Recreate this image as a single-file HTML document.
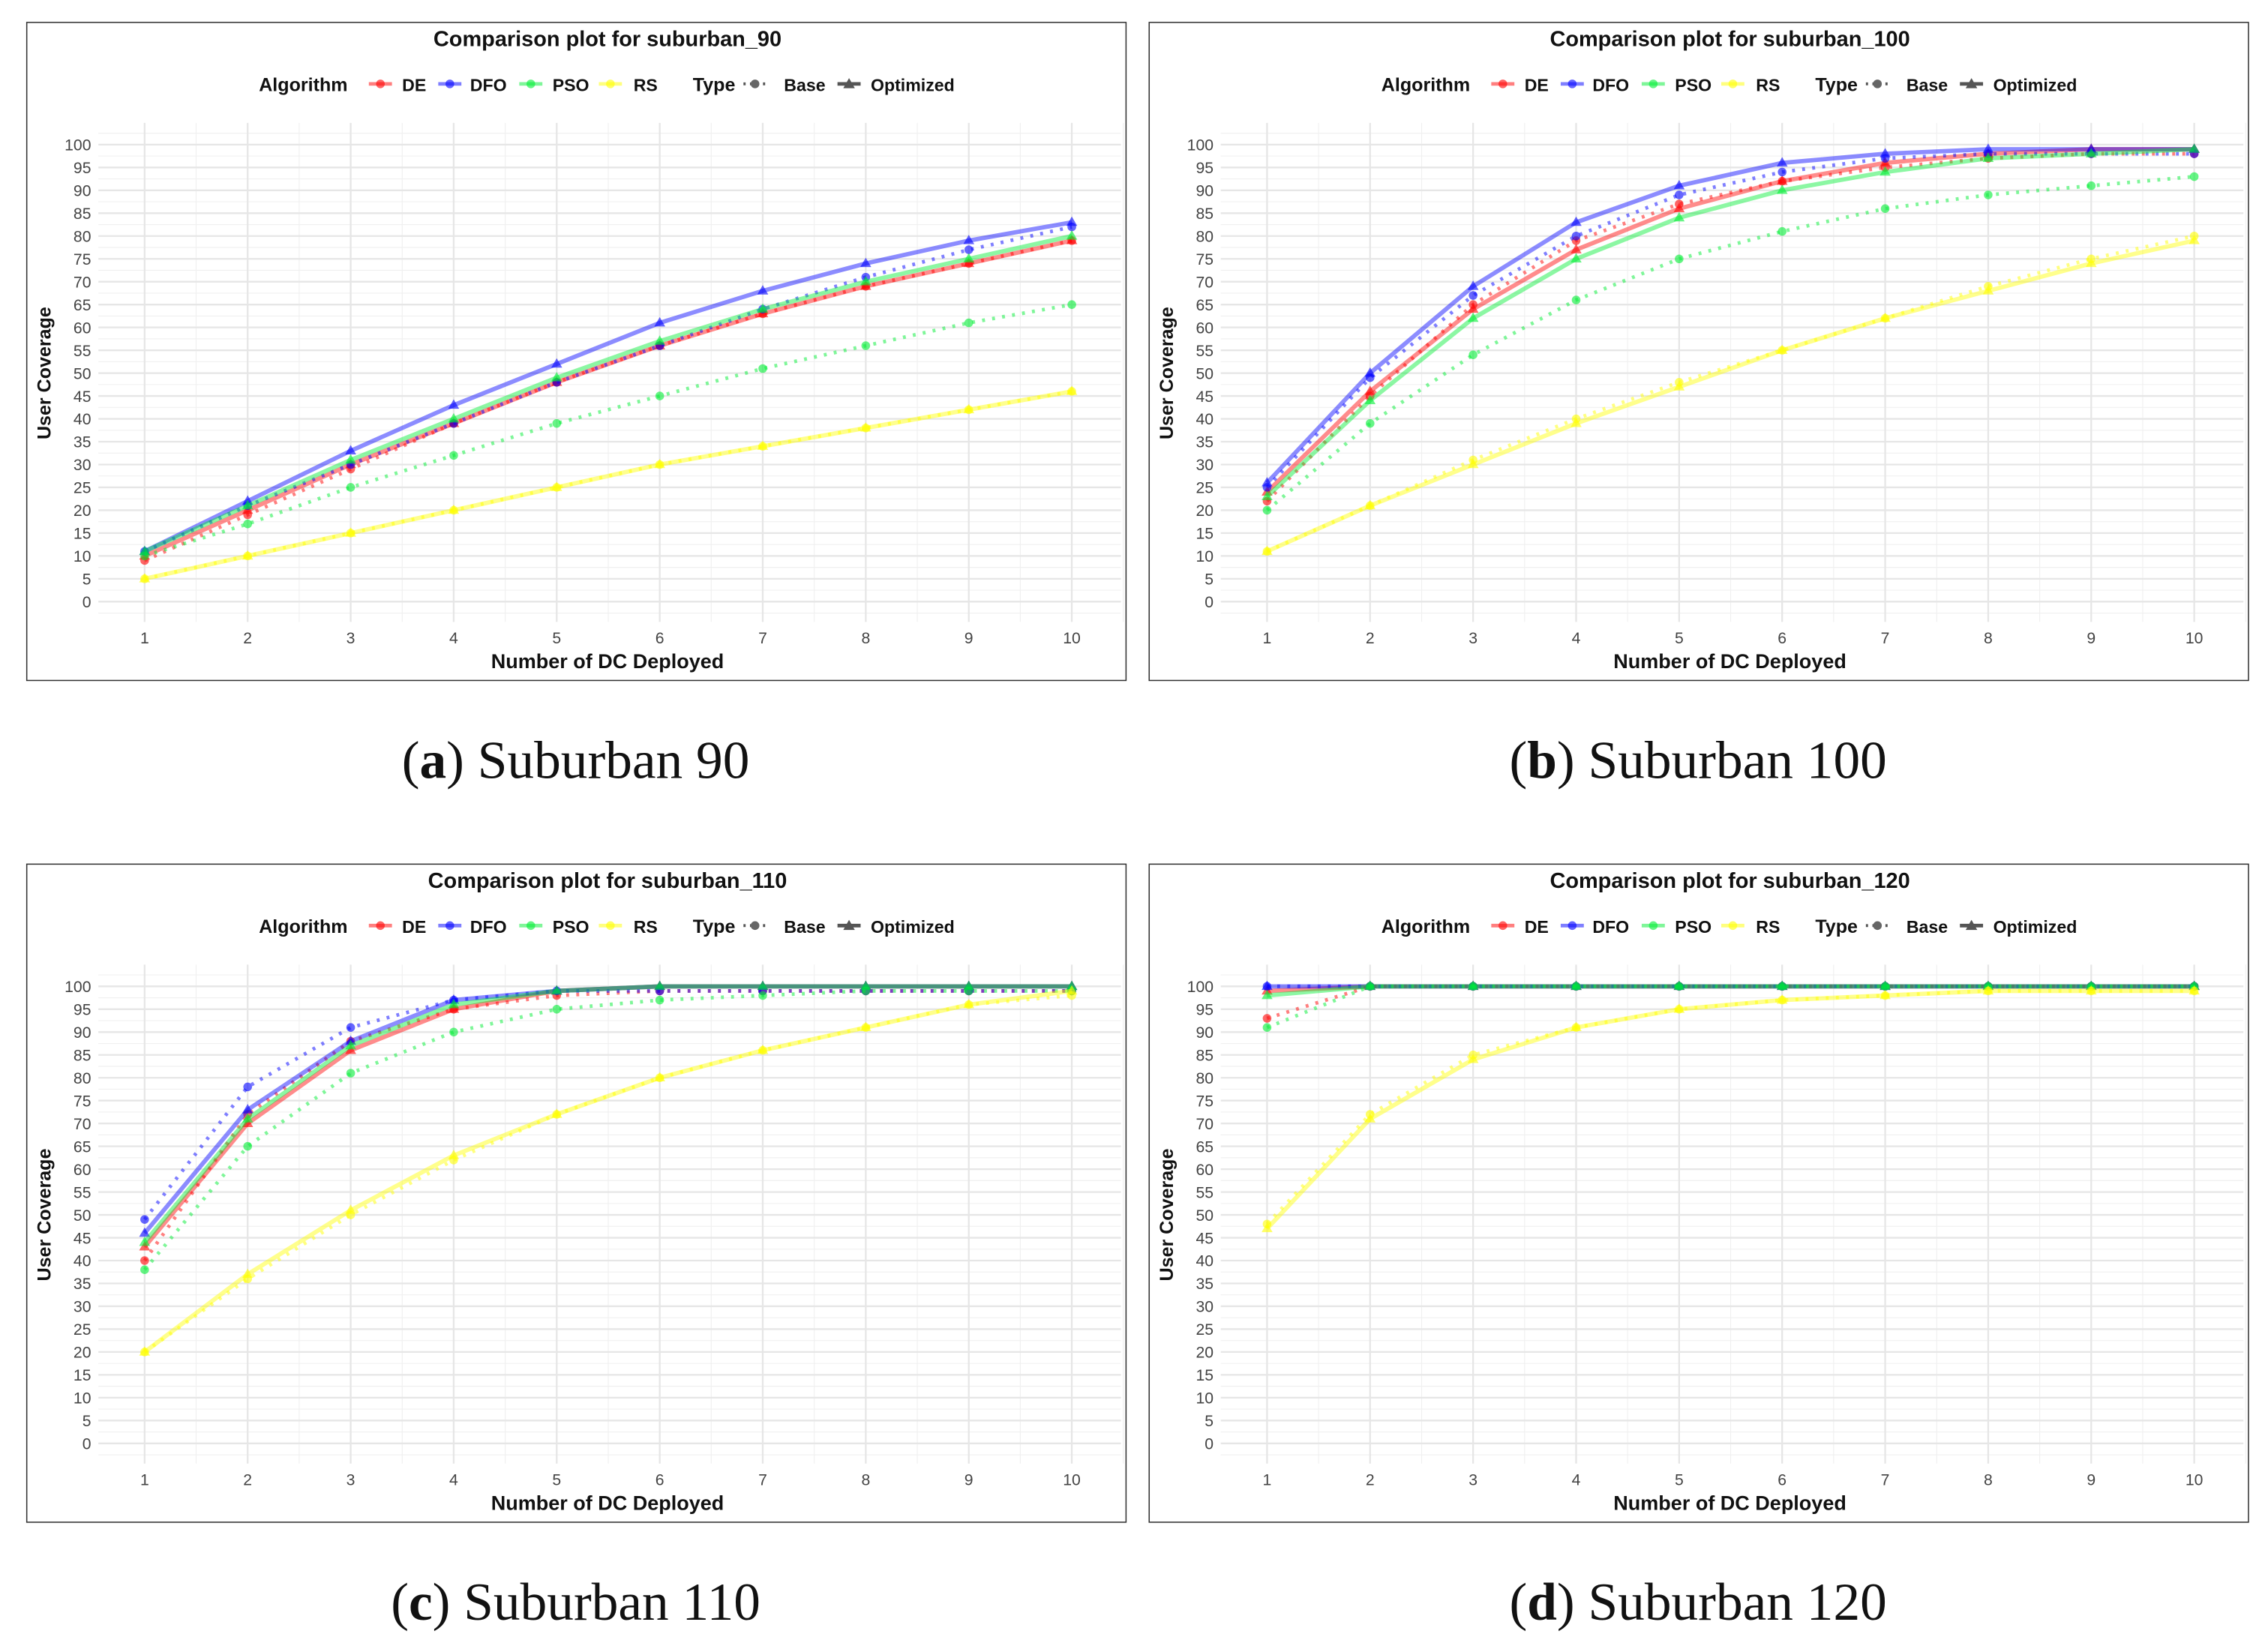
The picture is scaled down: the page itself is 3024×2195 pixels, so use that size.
<!DOCTYPE html>
<html><head><meta charset="utf-8">
<style>
html,body{margin:0;padding:0;background:#fff;}
svg{display:block;}
text{font-family:"Liberation Sans",sans-serif;}
</style></head>
<body>
<svg id="fig" width="3024" height="2195" viewBox="0 0 1568 1138.1" preserveAspectRatio="none" xmlns="http://www.w3.org/2000/svg"></svg>
<script>
const xCats = [1,2,3,4,5,6,7,8,9,10];
const yTicks = [0,5,10,15,20,25,30,35,40,45,50,55,60,65,70,75,80,85,90,95,100];
const algos = ["DE","DFO","PSO","RS"];
const panelTitles = ["Comparison plot for suburban_90","Comparison plot for suburban_100","Comparison plot for suburban_110","Comparison plot for suburban_120"];
const captionsBold = ["a","b","c","d"];
const captionsText = [" Suburban 90"," Suburban 100"," Suburban 110"," Suburban 120"];
// suburban_90
const a_DE_opt = [10,20,30,39,48,56,63,69,74,79];
const a_DE_base = [9,19,29,39,48,56,63,69,74,79];
const a_DFO_opt = [11,22,33,43,52,61,68,74,79,83];
const a_DFO_base = [11,21,30,39,48,56,64,71,77,82];
const a_PSO_opt = [11,21,31,40,49,57,64,70,75,80];
const a_PSO_base = [10,17,25,32,39,45,51,56,61,65];
const a_RS_opt = [5,10,15,20,25,30,34,38,42,46];
const a_RS_base = [5,10,15,20,25,30,34,38,42,46];
// suburban_100
const b_DE_opt = [24,46,64,77,86,92,96,98,99,99];
const b_DE_base = [22,45,65,79,87,92,95,97,98,98];
const b_DFO_opt = [26,50,69,83,91,96,98,99,99,99];
const b_DFO_base = [25,49,67,80,89,94,97,98,98,98];
const b_PSO_opt = [23,44,62,75,84,90,94,97,98,99];
const b_PSO_base = [20,39,54,66,75,81,86,89,91,93];
const b_RS_opt = [11,21,30,39,47,55,62,68,74,79];
const b_RS_base = [11,21,31,40,48,55,62,69,75,80];
// suburban_110
const c_DE_opt = [43,70,86,95,99,100,100,100,100,100];
const c_DE_base = [40,72,88,95,98,99,99,99,99,99];
const c_DFO_opt = [46,73,88,97,99,100,100,100,100,100];
const c_DFO_base = [49,78,91,97,99,99,99,99,99,99];
const c_PSO_opt = [44,71,87,96,99,100,100,100,100,100];
const c_PSO_base = [38,65,81,90,95,97,98,99,99,99];
const c_RS_opt = [20,37,51,63,72,80,86,91,96,99];
const c_RS_base = [20,36,50,62,72,80,86,91,96,98];
// suburban_120
const d_DE_opt = [99,100,100,100,100,100,100,100,100,100];
const d_DE_base = [93,100,100,100,100,100,100,100,100,100];
const d_DFO_opt = [100,100,100,100,100,100,100,100,100,100];
const d_DFO_base = [100,100,100,100,100,100,100,100,100,100];
const d_PSO_opt = [98,100,100,100,100,100,100,100,100,100];
const d_PSO_base = [91,100,100,100,100,100,100,100,100,100];
const d_RS_opt = [47,71,84,91,95,97,98,99,99,99];
const d_RS_base = [48,72,85,91,95,97,98,99,99,99];

const panelsData = [
 {DE:[a_DE_base,a_DE_opt],DFO:[a_DFO_base,a_DFO_opt],PSO:[a_PSO_base,a_PSO_opt],RS:[a_RS_base,a_RS_opt]},
 {DE:[b_DE_base,b_DE_opt],DFO:[b_DFO_base,b_DFO_opt],PSO:[b_PSO_base,b_PSO_opt],RS:[b_RS_base,b_RS_opt]},
 {DE:[c_DE_base,c_DE_opt],DFO:[c_DFO_base,c_DFO_opt],PSO:[c_PSO_base,c_PSO_opt],RS:[c_RS_base,c_RS_opt]},
 {DE:[d_DE_base,d_DE_opt],DFO:[d_DFO_base,d_DFO_opt],PSO:[d_PSO_base,d_PSO_opt],RS:[d_RS_base,d_RS_opt]}
];
const colors = {DE:"#ff0000",DFO:"#0000ff",PSO:"#00ee33",RS:"#ffff00"};
const NS="http://www.w3.org/2000/svg";
const svg=document.getElementById('fig');
function mk(tag,attrs,parent,txt){const e=document.createElementNS(NS,tag);for(const k in attrs)e.setAttribute(k,attrs[k]);if(txt!==undefined)e.textContent=txt;(parent||svg).appendChild(e);return e;}
const offsets=[[0,0],[776,0],[0,582],[776,582]];
const names=["a","b","c","d"];
offsets.forEach((o,pi)=>{
  const ox=o[0], oy=o[1];
  const g=mk('g',{transform:`translate(${ox},${oy})`});
  
  
  const box=mk('rect',{x:18.5,y:15.5,width:760,height:455,fill:'#fff',stroke:'#333','stroke-width':0.8},g);
  
  
  const xs=v=>100+(v-1)*(741-100)/9;
  const ys=v=>416-v*3.16;
  const left=68,right=775,top=85,bottom=430;
  const grid=mk('g',{},g);
  
  
  for(let v=-2.5; v<=102.5; v+=5){ mk('line',{x1:left,x2:right,y1:ys(v),y2:ys(v),stroke:'#f0f0f0','stroke-width':0.6},grid);}
  for(let i=0;i<xCats.length-1;i++){const xm=(xs(xCats[i])+xs(xCats[i+1]))/2; mk('line',{x1:xm,x2:xm,y1:top,y2:bottom,stroke:'#f0f0f0','stroke-width':0.6},grid);}
  {const xm=xs(10.5); mk('line',{x1:xm,x2:xm,y1:top,y2:bottom,stroke:'#f0f0f0','stroke-width':0.6},grid);}
  yTicks.forEach(v=>{mk('line',{x1:left,x2:right,y1:ys(v),y2:ys(v),stroke:'#e6e6e6','stroke-width':1.2},grid);
    const t=mk('text',{x:63,y:ys(v)+4,'text-anchor':'end','font-size':11,fill:'#444'},g,String(v));
    
    });
  xCats.forEach(v=>{mk('line',{x1:xs(v),x2:xs(v),y1:top,y2:bottom,stroke:'#e6e6e6','stroke-width':1.2},grid);
    const t=mk('text',{x:xs(v),y:445,'text-anchor':'middle','font-size':11,fill:'#444'},g,String(v));
    
    });
  const tt=mk('text',{x:420,y:32,'text-anchor':'middle','font-size':15,'font-weight':'bold',fill:'#111'},g,panelTitles[pi]);
  
  
  const xt=mk('text',{x:420,y:462,'text-anchor':'middle','font-size':14,'font-weight':'bold',fill:'#111'},g,'Number of DC Deployed');
  
  
  const yt=mk('text',{x:0,y:0,transform:'translate(35,258) rotate(-90)','text-anchor':'middle','font-size':13,'font-weight':'bold',fill:'#111'},g,'User Coverage');
  
  
  const lg=mk('g',{},g);
  
  
  const l1=mk('text',{x:179,y:63,'font-size':13,'font-weight':'bold',fill:'#111'},lg,'Algorithm');
  
  
  const lpos=[[263,278],[311,325],[367,382],[422,438]];
  algos.forEach((a,i)=>{
    const e=mk('g',{},lg);
    
    
    mk('line',{x1:lpos[i][0]-8,x2:lpos[i][0]+8,y1:58,y2:58,stroke:colors[a],'stroke-width':2.5,'stroke-opacity':0.5},e);
    mk('circle',{cx:lpos[i][0],cy:58,r:3,fill:colors[a],'fill-opacity':0.6},e);
    mk('text',{x:lpos[i][1],y:63,'font-size':12,'font-weight':'bold',fill:'#111'},e,a);
  });
  const l2=mk('text',{x:479,y:63,'font-size':13,'font-weight':'bold',fill:'#111'},lg,'Type');
  
  
  const eb=mk('g',{},lg);
  
  
  mk('line',{x1:514,x2:530,y1:58,y2:58,stroke:'#555','stroke-width':2,'stroke-dasharray':'1.5,3'},eb);
  mk('circle',{cx:522,cy:58,r:3,fill:'#666'},eb);
  mk('text',{x:542,y:63,'font-size':12,'font-weight':'bold',fill:'#111'},eb,'Base');
  const eo=mk('g',{},lg);
  
  
  mk('line',{x1:579,x2:595,y1:58,y2:58,stroke:'#555','stroke-width':2.5},eo);
  mk('path',{d:'M587,54 L591,61 L583,61 Z',fill:'#555'},eo);
  mk('text',{x:602,y:63,'font-size':12,'font-weight':'bold',fill:'#111'},eo,'Optimized');
  const pd=panelsData[pi];
  algos.forEach(a=>{
    const [base,opt]=pd[a];
    const sb=mk('g',{},g);
    
    
    mk('polyline',{points:base.map((v,i)=>xs(xCats[i])+','+ys(v)).join(' '),fill:'none',stroke:colors[a],'stroke-opacity':0.5,'stroke-width':2.5,'stroke-dasharray':'2,5','stroke-linecap':'butt'},sb);
    base.forEach((v,i)=>{const c=mk('circle',{cx:xs(xCats[i]),cy:ys(v),r:3,fill:colors[a],'fill-opacity':0.6},sb);
      
      });
    const so=mk('g',{},g);
    
    
    mk('polyline',{points:opt.map((v,i)=>xs(xCats[i])+','+ys(v)).join(' '),fill:'none',stroke:colors[a],'stroke-opacity':0.45,'stroke-width':3},so);
    opt.forEach((v,i)=>{const x=xs(xCats[i]),y=ys(v);
      const p=mk('path',{d:`M${x},${y-4} L${x+3.8},${y+2.5} L${x-3.8},${y+2.5} Z`,fill:colors[a],'fill-opacity':0.6},so);
      
      });
  });
  const cap=mk('text',{x:398,y:538,'text-anchor':'middle','font-size':37,fill:'#111','font-family':'Liberation Serif, serif'},g);
  
  
  mk('tspan',{'font-family':'Liberation Serif, serif'},cap,'(');
  mk('tspan',{'font-weight':'bold','font-family':'Liberation Serif, serif'},cap,captionsBold[pi]);
  mk('tspan',{'font-family':'Liberation Serif, serif'},cap,')'+captionsText[pi]);
});
</script>
</body></html>
